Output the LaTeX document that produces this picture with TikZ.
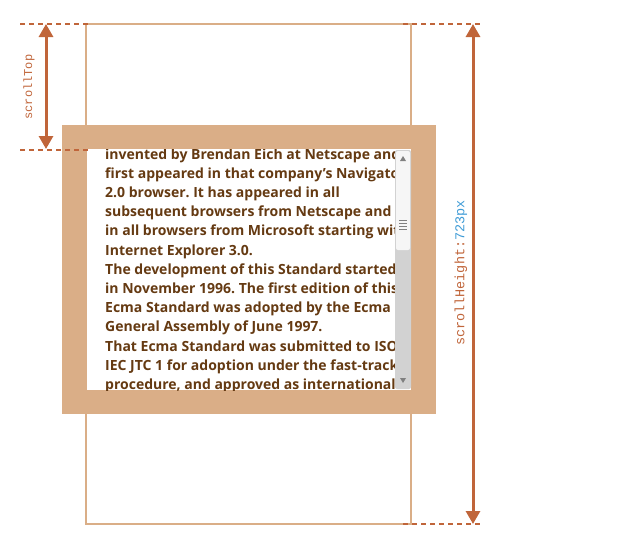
\documentclass[tikz,border=0pt]{standalone}
\usepackage{fontspec}
\newfontfamily\bodyfont{Open Sans}
\newfontfamily\codefont{Liberation Mono}
\usetikzlibrary{arrows.meta}
\definecolor{frametan}{HTML}{DAAE87}
\definecolor{rust}{HTML}{C0653A}
\definecolor{txtbrown}{HTML}{653A12}
\definecolor{pxblue}{HTML}{3E9BD6}
\definecolor{track}{HTML}{D2D2D2}
\frenchspacing
\begin{document}
\begin{tikzpicture}[x=1pt,y=-1pt,
  guide/.style={rust, line width=1.6pt, dash pattern=on 5pt off 4pt},
  measure/.style={rust, line width=3pt, {Triangle[width=14pt,length=13pt]}-{Triangle[width=14pt,length=13pt]}},
  textline/.style={anchor=base west, inner sep=0pt, font=\bodyfont\bfseries\fontsize{14}{19}\selectfont, text=txtbrown},
  vlabel/.style={rotate=90, inner sep=0pt, text=rust}
]
\useasboundingbox (0,0) rectangle (642,546);
% scrollable content outline
\draw[frametan, line width=1.6pt] (86,24) rectangle (411,524);
% element frame
\fill[frametan] (62,125) rectangle (436,414);
\fill[white] (87,149) rectangle (411,390);
% text
\begin{scope}
\clip (87,149) rectangle (395,390);
\foreach \t [count=\i from 0] in {
  {invented by Brendan Eich at Netscape and},
  {first appeared in that company’s Navigator},
  {2.0 browser. It has appeared in all},
  {subsequent browsers from Netscape and},
  {in all browsers from Microsoft starting with},
  {Internet Explorer 3.0.},
  {The development of this Standard started},
  {in November 1996. The first edition of this},
  {Ecma Standard was adopted by the Ecma},
  {General Assembly of June 1997.},
  {That Ecma Standard was submitted to ISO/},
  {IEC JTC 1 for adoption under the fast-track},
  {procedure, and approved as international}}
  \node[textline] (l\i) at (105,{159+19.2*\i}) {\t};
\end{scope}
% scrollbar
\fill[track, rounded corners=2pt] (395,150) rectangle (411,389);
\fill[white!93!gray, rounded corners=2pt] (396,151) rectangle (410,250);
\foreach \yy in {220,223,226,229} \draw[gray, line width=0.8pt] (399,\yy) -- (407,\yy);
\fill[gray] (400,161) -- (406,161) -- (403,156) -- cycle;
\fill[gray] (400,378) -- (406,378) -- (403,383) -- cycle;
% guides
\draw[guide] (20,24) -- (88,24);
\draw[guide] (20,150) -- (88,150);
\draw[guide] (403,24) -- (480,24);
\draw[guide] (403,524) -- (480,524);
% measures
\coordinate (stT) at (46,24);
\coordinate (stB) at (46,149);
\draw[measure] (stT) -- (stB);
\coordinate (shT) at (473,24);
\coordinate (shB) at (473,524);
\draw[measure] (shT) -- (shB);
\node[vlabel, font=\codefont\fontsize{12}{12}\selectfont] (stlabel) at (29,87) {scrollTop};
\node[vlabel, font=\codefont\fontsize{13.5}{13.5}\selectfont] (shlabel) at (461,273) {scrollHeight:\textcolor{pxblue}{723px}};
\end{tikzpicture}
\end{document}
